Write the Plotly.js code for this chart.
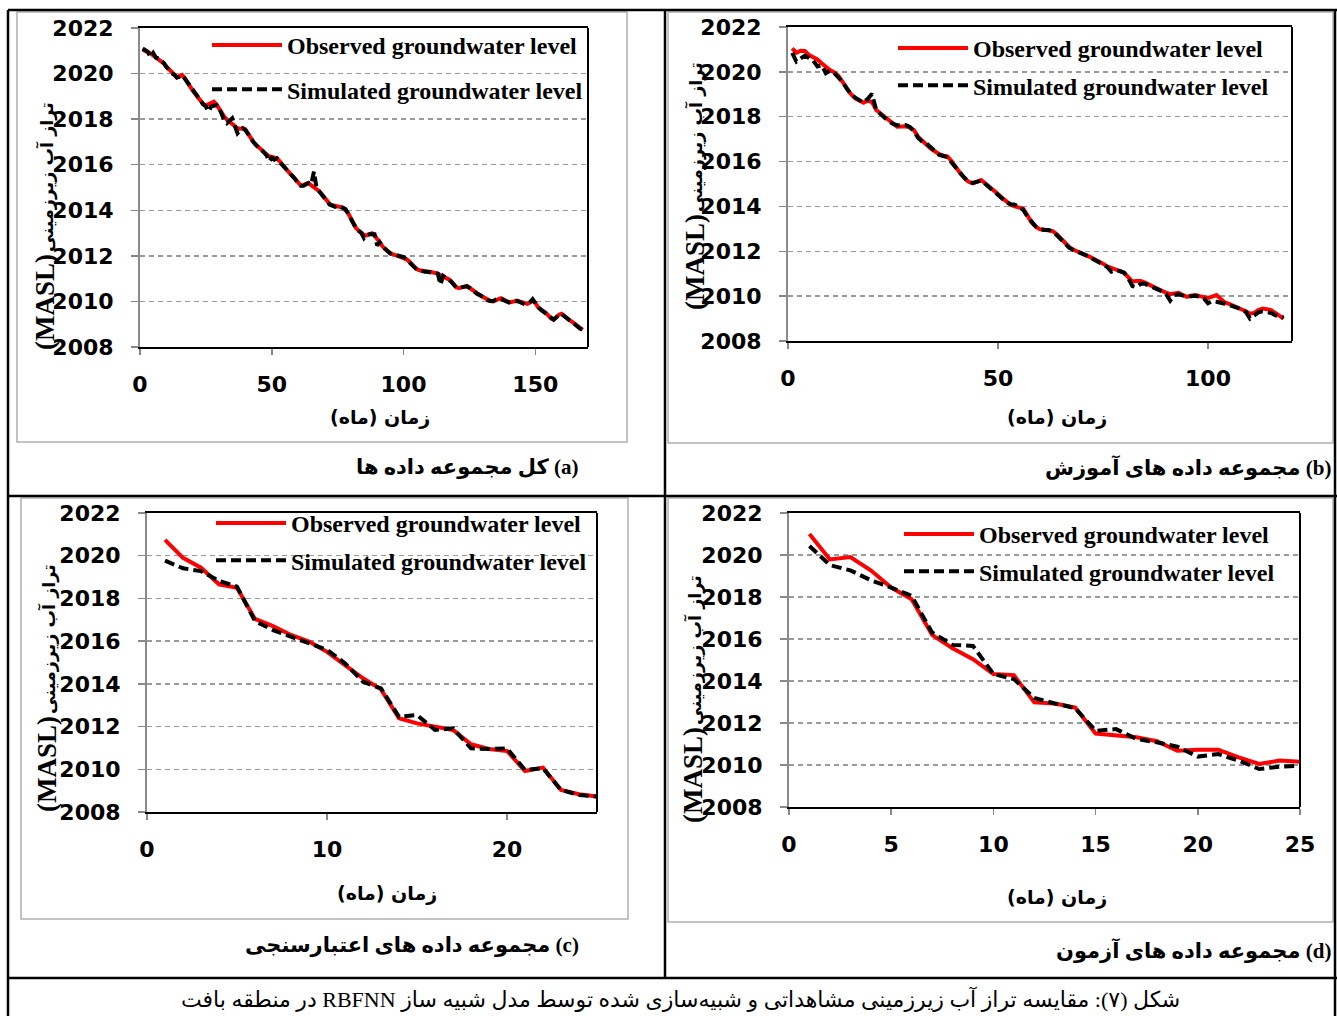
<!DOCTYPE html>
<html><head><meta charset="utf-8">
<script src="https://cdn.plot.ly/plotly-3.0.1.min.js"></script>
<style>html,body{margin:0;padding:0;background:#fff;overflow:hidden}#chart{width:1337px;height:1016px}</style>
</head><body><div id="chart"></div>
<script>
// ---------- DATA ----------
const seriesNames = ['Observed groundwater level', 'Simulated groundwater level'];
const panelCaptions = ['(a) کل مجموعه داده ها', '(b) مجموعه داده های آموزش', '(c) مجموعه داده های اعتبارسنجی', '(d) مجموعه داده های آزمون'];
const xTitle = 'زمان (ماه)';
const yTitlePersian = 'تراز آب زیرزمینی';
const yTitleUnit = '(MASL)';
const figureCaption = 'شکل (۷): مقایسه تراز آب زیرزمینی مشاهداتی و شبیه‌سازی شده توسط مدل شبیه ساز RBFNN در منطقه بافت';

const allObserved = [
2021.05,2021.0,2020.92,2020.88,2020.8,2020.72,2020.65,2020.58,2020.45,2020.3,
2020.18,2020.05,2019.95,2019.85,2019.88,2019.94,2019.8,2019.6,2019.42,2019.25,
2019.1,2018.95,2018.8,2018.66,2018.6,2018.65,2018.72,2018.77,2018.65,2018.45,
2018.25,2018.1,2017.98,2017.87,2017.78,2017.68,2017.6,2017.58,2017.6,2017.55,
2017.35,2017.15,2017.0,2016.88,2016.76,2016.66,2016.55,2016.45,2016.37,2016.33,
2016.3,2016.28,2016.15,2016.0,2015.86,2015.72,2015.6,2015.49,2015.35,2015.2,
2015.09,2015.1,2015.17,2015.18,2015.1,2015.04,2014.95,2014.84,2014.7,2014.55,
2014.4,2014.27,2014.22,2014.2,2014.18,2014.17,2014.12,2014.0,2013.87,2013.65,
2013.42,2013.22,2013.1,2013.0,2012.92,2012.9,2012.95,2012.99,2012.9,2012.72,
2012.56,2012.42,2012.3,2012.2,2012.12,2012.07,2012.03,2012.0,2011.97,2011.93,
2011.86,2011.77,2011.65,2011.52,2011.42,2011.37,2011.34,2011.32,2011.31,2011.3,
2011.28,2011.27,2011.22,2011.15,2011.1,2011.05,2010.98,2010.9,2010.75,2010.62,
2010.58,2010.62,2010.67,2010.68,2010.6,2010.5,2010.41,2010.35,2010.27,2010.2,
2010.14,2010.07,2010.02,2010.0,2010.06,2010.12,2010.14,2010.08,2010.0,2009.96,
2009.97,2010.02,2010.04,2010.0,2009.95,2009.9,2009.89,2009.95,2010.03,2009.95,
2009.75,2009.65,2009.58,2009.5,2009.38,2009.25,2009.2,2009.3,2009.42,2009.46,
2009.35,2009.25,2009.18,2009.1,2009.0,2008.92,2008.8,2008.75];
const allSimulated = [
2021.1,2021.0,2020.95,2020.72,2020.9,2020.7,2020.66,2020.55,2020.47,2020.3,
2020.15,2020.02,2019.95,2019.82,2019.86,2019.92,2019.78,2019.62,2019.4,2019.25,
2019.08,2018.95,2018.78,2018.65,2018.55,2018.33,2018.55,2018.6,2018.62,2018.5,
2018.25,2017.95,2017.82,2017.92,2018.04,2017.7,2017.38,2017.5,2017.6,2017.52,
2017.35,2017.12,2017.0,2016.86,2016.78,2016.66,2016.55,2016.42,2016.14,2016.3,
2016.22,2016.28,2016.12,2016.0,2015.84,2015.72,2015.58,2015.47,2015.35,2015.18,
2015.08,2015.08,2015.12,2015.2,2015.15,2015.7,2014.98,2014.84,2014.7,2014.53,
2014.4,2014.25,2014.2,2014.15,2014.2,2014.15,2014.1,2014.05,2013.85,2013.65,
2013.42,2013.2,2013.1,2013.0,2012.78,2012.92,2012.95,2012.97,2012.95,2012.45,
2012.6,2012.42,2012.28,2012.2,2012.1,2012.07,2012.05,2011.98,2011.95,2011.95,
2011.85,2011.75,2011.65,2011.5,2011.4,2011.38,2011.33,2011.3,2011.3,2011.3,
2011.26,2011.25,2011.22,2010.73,2011.12,2011.05,2010.97,2010.88,2010.75,2010.62,
2010.6,2010.62,2010.68,2010.66,2010.6,2010.5,2010.4,2010.33,2010.28,2010.2,
2010.12,2010.05,2010.02,2010.02,2010.08,2010.12,2010.12,2010.05,2009.98,2009.96,
2009.98,2010.0,2010.02,2009.98,2009.92,2009.88,2009.9,2009.97,2010.1,2009.92,
2009.76,2009.65,2009.55,2009.48,2009.36,2009.25,2009.2,2009.3,2009.42,2009.44,
2009.36,2009.26,2009.18,2009.1,2009.0,2008.9,2008.8,2008.76];
const trainObserved = [
2021.05,2020.85,2020.94,2020.93,2020.75,2020.65,2020.55,2020.38,2020.2,2020.08,
2019.98,2019.82,2019.55,2019.28,2019.0,2018.82,2018.7,2018.62,2018.72,2018.65,
2018.3,2018.15,2017.98,2017.82,2017.66,2017.55,2017.56,2017.57,2017.52,2017.4,
2017.1,2016.9,2016.75,2016.58,2016.45,2016.33,2016.26,2016.22,2016.0,2015.72,
2015.48,2015.26,2015.1,2015.03,2015.1,2015.18,2015.02,2014.88,2014.72,2014.55,
2014.38,2014.22,2014.07,2014.0,2013.97,2013.9,2013.6,2013.28,2013.1,2012.98,
2012.96,2012.95,2012.9,2012.76,2012.55,2012.35,2012.18,2012.07,2012.0,2011.92,
2011.82,2011.74,2011.65,2011.56,2011.45,2011.33,2011.25,2011.18,2011.13,2011.05,
2010.85,2010.65,2010.68,2010.68,2010.6,2010.5,2010.42,2010.32,2010.24,2010.16,
2010.09,2010.12,2010.15,2010.05,2009.97,2010.02,2010.05,2010.0,2009.95,2009.92,
2009.98,2010.05,2009.88,2009.72,2009.66,2009.58,2009.52,2009.44,2009.33,2009.22,
2009.25,2009.38,2009.45,2009.42,2009.38,2009.25,2009.1,2009.0];
const trainSimulated = [
2020.85,2020.46,2020.6,2020.72,2020.62,2020.5,2020.24,2020.3,2019.94,2020.05,
2019.95,2019.75,2019.55,2019.25,2019.0,2018.85,2018.72,2018.63,2018.8,2019.02,
2018.3,2018.1,2017.95,2017.8,2017.68,2017.62,2017.63,2017.63,2017.55,2017.35,
2017.05,2016.88,2016.8,2016.65,2016.45,2016.3,2016.25,2016.2,2015.95,2015.7,
2015.5,2015.28,2015.1,2015.05,2015.12,2015.15,2015.0,2014.85,2014.7,2014.52,
2014.35,2014.18,2014.1,2014.08,2013.98,2013.85,2013.55,2013.3,2013.1,2013.0,
2012.95,2012.95,2012.88,2012.72,2012.52,2012.32,2012.15,2012.05,2011.98,2011.9,
2011.82,2011.72,2011.62,2011.55,2011.42,2011.3,2011.09,2011.15,2011.12,2011.05,
2010.8,2010.45,2010.4,2010.55,2010.55,2010.45,2010.4,2010.3,2010.22,2010.1,
2009.8,2010.05,2010.08,2010.02,2009.98,2010.0,2010.02,2009.98,2009.9,2009.68,
2009.78,2009.75,2009.72,2009.66,2009.6,2009.55,2009.48,2009.4,2009.3,2009.0,
2009.15,2009.28,2009.32,2009.3,2009.25,2009.15,2009.08,2009.05];
const validObserved = [2020.74,2019.9,2019.44,2018.66,2018.5,2017.04,2016.7,2016.29,2015.98,2015.5,2014.88,2014.26,2013.74,2012.39,2012.15,2012.0,2011.84,2011.17,2010.95,2010.86,2009.92,2010.08,2009.03,2008.83,2008.72];
const validSimulated = [2019.77,2019.41,2019.28,2018.82,2018.55,2016.94,2016.52,2016.21,2015.9,2015.59,2014.96,2014.1,2013.79,2012.46,2012.54,2011.84,2011.92,2010.98,2010.95,2010.98,2009.97,2010.05,2009.03,2008.8,2008.72];
const testObserved = [2021.0,2019.79,2019.9,2019.27,2018.45,2017.89,2016.2,2015.56,2015.04,2014.33,2014.28,2012.98,2012.93,2012.74,2011.5,2011.4,2011.32,2011.13,2010.68,2010.73,2010.73,2010.36,2010.05,2010.21,2010.16];
const testSimulated = [2020.43,2019.52,2019.27,2018.8,2018.45,2018.05,2016.31,2015.72,2015.67,2014.33,2014.09,2013.19,2012.93,2012.71,2011.63,2011.71,2011.24,2011.08,2010.87,2010.4,2010.52,2010.21,2009.81,2009.92,2009.97];
const xMax = [170, 120, 25, 25];
const xStep = [50, 50, 10, 5];
const yMin = 2008, yMax = 2022, yStep = 2;

// ---------- LAYOUT HELPERS ----------
const W = 1337, H = 1016;
const px = v => v / W, py = v => 1 - v / H;
const RLE = '\u202B', PDF = '\u202C';
const rtl = s => RLE + s + PDF;

// plot areas in pixels: [left, right, top, bottom]
const areas = [[140, 588, 28, 347], [788, 1292, 27, 341], [147, 597, 513, 812], [789, 1300, 513, 807]];
const obsSets = [allObserved, trainObserved, validObserved, testObserved];
const simSets = [allSimulated, trainSimulated, validSimulated, testSimulated];

const tickFont = {family: 'DejaVu Sans', size: 22, weight: 'bold', color: '#000'};
const legFont = {family: 'Liberation Serif', size: 24, weight: 'bold', color: '#000'};

const layout = {
  width: W, height: H, margin: {l: 0, r: 0, t: 0, b: 0},
  paper_bgcolor: '#fff', plot_bgcolor: '#fff', showlegend: true,
  shapes: [], annotations: []
};
const data = [];
const legendPos = [[207, 23, 10], [893, 26, 3], [211, 501, 3], [899, 512, 3]];

areas.forEach((a, i) => {
  const n = i === 0 ? '' : String(i + 1);
  const xa = 'xaxis' + n, ya = 'yaxis' + n;
  layout[xa] = {
    domain: [px(a[0]), px(a[1])], range: [0, xMax[i]], dtick: xStep[i], tick0: 0,
    anchor: 'y' + n, showgrid: false, zeroline: false,
    showline: true, linecolor: '#000', linewidth: 2, mirror: true,
    ticks: 'outside', ticklen: 6, tickcolor: '#888', tickwidth: 1.5,
    tickfont: tickFont, ticklabelstandoff: 11, fixedrange: true
  };
  layout[ya] = {
    domain: [py(a[3]), py(a[2])], range: [yMin, yMax], dtick: yStep, tick0: yMin,
    anchor: 'x' + n, showgrid: true, gridcolor: '#9a9a9a', gridwidth: 1.5, griddash: '5px,4px',
    zeroline: false, showline: true, linecolor: '#8a8a8a', linewidth: 2, mirror: false,
    ticks: 'outside', ticklen: 7, tickcolor: '#888', tickwidth: 1.5,
    tickfont: tickFont, ticklabelstandoff: 13, fixedrange: true
  };
  const leg = 'legend' + n;
  layout[leg] = {
    x: px(legendPos[i][0]), y: py(legendPos[i][1]), xanchor: 'left', yanchor: 'top',
    xref: 'paper', yref: 'paper',
    bgcolor: 'rgba(0,0,0,0)', borderwidth: 0, font: legFont, itemwidth: 70,
    tracegroupgap: legendPos[i][2], traceorder: 'grouped'
  };
  data.push({
    type: 'scatter', mode: 'lines', y: obsSets[i], x0: 1, dx: 1,
    xaxis: 'x' + n, yaxis: 'y' + n, name: seriesNames[0], legend: leg, legendgroup: 'o' + i,
    line: {color: '#ff0000', width: 4}
  });
  data.push({
    type: 'scatter', mode: 'lines', y: simSets[i], x0: 1, dx: 1,
    xaxis: 'x' + n, yaxis: 'y' + n, name: seriesNames[1], legend: leg, legendgroup: 's' + i,
    line: {color: '#000', width: 4, dash: '10px,5px'}
  });
  // right border of plot area
  layout.shapes.push({type: 'line', xref: 'x' + n + ' domain', yref: 'y' + n + ' domain',
    x0: 1, x1: 1, y0: 0, y1: 1, line: {color: '#000', width: 2}});
});

// gray chart-area boxes
[[17, 12, 627, 442], [668, 12, 1333, 443], [21, 498, 628, 919], [668, 498, 1333, 922]].forEach(b => {
  layout.shapes.push({type: 'rect', xref: 'paper', yref: 'paper', layer: 'below',
    x0: px(b[0]), x1: px(b[2]), y0: py(b[1]), y1: py(b[3]), line: {color: '#b0b0b0', width: 1.5}});
});
// black figure frame
[[8, 10, 1337, 10], [8, 10, 8, 1016], [1335, 10, 1335, 1016], [8, 496, 1337, 496], [8, 978, 1337, 978], [665, 10, 665, 978]].forEach(l => {
  layout.shapes.push({type: 'line', xref: 'paper', yref: 'paper',
    x0: px(l[0]), x1: px(l[2]), y0: py(l[1]), y1: py(l[3]), line: {color: '#000', width: 2.5}});
});

const mixBold = {family: '"Liberation Serif", "DejaVu Sans"', size: 21, weight: 'bold', color: '#000'};
// y titles: Persian part and unit part, rotated; [x, persianCenterY, unitCenterY]
[[45, 177, 302], [695, 137, 262], [47, 639, 764], [693, 650, 775]].forEach(p => {
  layout.annotations.push({text: yTitlePersian, textangle: -90, xref: 'paper', yref: 'paper',
    x: px(p[0] + 1), y: py(p[1]), xanchor: 'center', yanchor: 'middle', showarrow: false,
    font: {family: 'DejaVu Sans', size: 17.5, weight: 'bold', color: '#000'}});
  layout.annotations.push({text: yTitleUnit, textangle: -90, xref: 'paper', yref: 'paper',
    x: px(p[0]), y: py(p[2]), xanchor: 'center', yanchor: 'middle', showarrow: false,
    font: {family: 'Liberation Serif', size: 27, weight: 'bold', color: '#000'}});
});
// x titles
[[380, 418], [1057, 418], [387, 893], [1057, 897]].forEach(p => {
  layout.annotations.push({text: rtl(xTitle), xref: 'paper', yref: 'paper',
    x: px(p[0]), y: py(p[1]), xanchor: 'center', yanchor: 'middle', showarrow: false,
    font: {family: 'DejaVu Sans', size: 19, weight: 'bold', color: '#000'}});
});
// panel captions
[[581, 467], [1333, 467], [581, 945], [1333, 950]].forEach((p, i) => {
  layout.annotations.push({text: rtl(panelCaptions[i]), xref: 'paper', yref: 'paper',
    x: px(p[0]), y: py(p[1]), xanchor: 'right', yanchor: 'middle', showarrow: false,
    font: mixBold});
});
// figure caption
layout.annotations.push({text: rtl(figureCaption), xref: 'paper', yref: 'paper',
  x: px(680), y: py(999), xanchor: 'center', yanchor: 'middle', showarrow: false,
  font: {family: '"Liberation Serif", "DejaVu Sans"', size: 22, color: '#000'}});

Plotly.newPlot('chart', data, layout, {staticPlot: true, displayModeBar: false});
</script>
</body></html>
